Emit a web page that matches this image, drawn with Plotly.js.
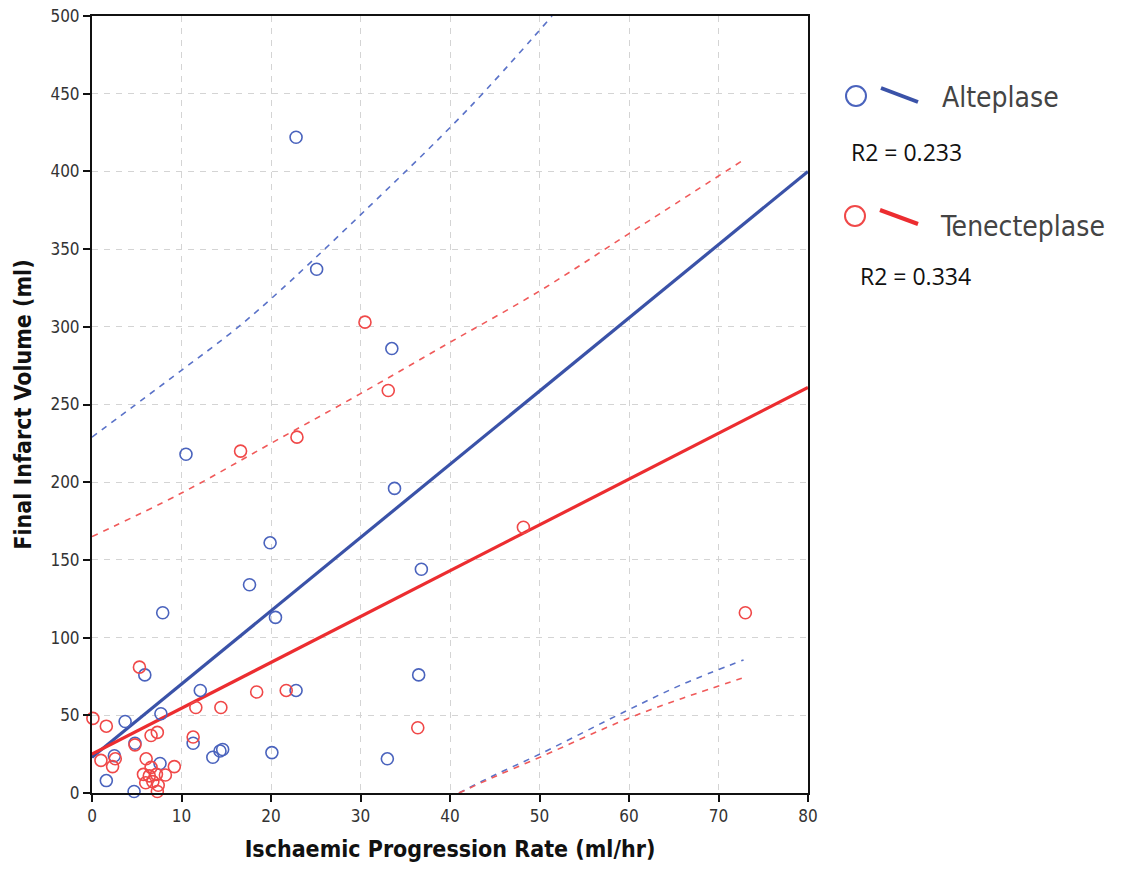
<!DOCTYPE html>
<html>
<head>
<meta charset="utf-8">
<script src="https://cdn.plot.ly/plotly-3.0.1.min.js"></script>
<style>html,body{margin:0;padding:0;background:#fff;}#chart{width:1122px;height:879px;}</style>
</head>
<body>
<div id="chart"></div>
<script>
// Alteplase observations
const alteX = [22.8,25.1,33.5,10.5,33.8,19.9,36.8,17.6,7.9,20.5,5.9,36.5,12.1,22.8,7.7,3.7,11.3,4.8,14.6,14.3,13.5,20.1,33.0,2.5,7.6,1.6,4.7];
const alteY = [422,337,286,218,196,161,144,134,116,113,76,76,66,66,51,46,32,32,28,27,23,26,22,24,19,8,1];
// Tenecteplase observations
const tenX = [30.5,33.1,22.9,16.6,48.2,73.0,36.4,5.3,18.4,21.7,11.6,14.4,11.3,1.6,0.1,6.6,7.3,4.8,1.0,2.6,2.3,6.05,6.6,5.75,6.4,7.2,8.2,9.2,6.0,6.8,7.4,7.3];
const tenY = [303,259,229,220,171,116,42,81,65,66,55,55,36,43,48,37,39,31,21,22,17,22,16.5,12,11,12,11.6,17,6.6,7.3,5,1];
// Fit lines
const alteFitX = [0, 80];
const alteFitY = [23, 400];
const tenFitX = [0, 80];
const tenFitY = [25, 261];
// Prediction interval curves
const alteUpX = [0, 10, 15.5, 20, 30, 42, 51.4];
const alteUpY = [229, 272, 296, 318, 372, 440, 500];
const alteLoX = [41, 44.6, 50.2, 59.9, 66, 72.8];
const alteLoY = [0, 10.5, 25.5, 53.4, 70, 85.6];
const tenUpX = [0, 10, 20, 30, 40, 50, 60, 72.7];
const tenUpY = [165, 193, 225, 257, 290, 323, 360, 407];
const tenLoX = [41, 44.6, 50.2, 59.9, 66, 72.6];
const tenLoY = [0, 9.5, 23.4, 48, 61, 73.8];
// Axis ticks
const xTicks = [0,10,20,30,40,50,60,70,80];
const yTicks = [0,50,100,150,200,250,300,350,400,450,500];
// Legend texts
const seriesNames = ["Alteplase", "Tenecteplase"];
const r2Texts = ["R2 = 0.233", "R2 = 0.334"];

const BLUE_M = "#4a63bd", BLUE_L = "#3a52a8";
const RED_M = "#f04848", RED_L = "#ec2d30";
const COND = "DejaVu Sans Condensed, Liberation Sans Narrow, Arial Narrow, sans-serif";

const traces = [
  {x: alteUpX, y: alteUpY, mode: "lines", line: {color: "#5a72c8", width: 1.6, dash: "6px,6px", shape: "spline"}, hoverinfo: "skip"},
  {x: alteLoX, y: alteLoY, mode: "lines", line: {color: "#5a72c8", width: 1.6, dash: "6px,6px", shape: "spline"}, hoverinfo: "skip"},
  {x: tenUpX, y: tenUpY, mode: "lines", line: {color: "#f05a5a", width: 1.6, dash: "6px,6px", shape: "spline"}, hoverinfo: "skip"},
  {x: tenLoX, y: tenLoY, mode: "lines", line: {color: "#f05a5a", width: 1.6, dash: "6px,6px", shape: "spline"}, hoverinfo: "skip"},
  {x: alteFitX, y: alteFitY, mode: "lines", line: {color: BLUE_L, width: 3.2}},
  {x: tenFitX, y: tenFitY, mode: "lines", line: {color: RED_L, width: 3.2}},
  {x: alteX, y: alteY, mode: "markers", name: seriesNames[0], cliponaxis: false,
   marker: {symbol: "circle-open", size: 12, color: BLUE_M, line: {width: 1.6, color: BLUE_M}}},
  {x: tenX, y: tenY, mode: "markers", name: seriesNames[1], cliponaxis: false,
   marker: {symbol: "circle-open", size: 12, color: RED_M, line: {width: 1.6, color: RED_M}}}
];

// paper coordinate helpers for the custom legend (plot area 92..808 x, 16..793 y)
const px = v => (v - 92) / 716;
const py = v => (793 - v) / 777;

const layout = {
  width: 1122, height: 879,
  margin: {l: 92, r: 314, t: 16, b: 86},
  paper_bgcolor: "#fff", plot_bgcolor: "#fff",
  showlegend: false,
  font: {family: "Liberation Sans, Arial, sans-serif", color: "#222"},
  xaxis: {
    range: [0, 80], tickvals: xTicks, ticktext: xTicks.map(String),
    showgrid: true, gridcolor: "#d4d4d4", griddash: "6px,6px", gridwidth: 1,
    zeroline: false, showline: true, linecolor: "#111", linewidth: 2, mirror: true,
    ticks: "outside", ticklen: 7, tickwidth: 2, tickcolor: "#111",
    tickfont: {size: 17, color: "#333", family: COND},
    title: {text: "<b>Ischaemic Progression Rate (ml/hr)</b>", standoff: 15,
            font: {size: 23, color: "#111", family: COND}}
  },
  yaxis: {
    range: [0, 500], tickvals: yTicks, ticktext: yTicks.map(String),
    showgrid: true, gridcolor: "#d4d4d4", griddash: "6px,6px", gridwidth: 1,
    zeroline: false, showline: true, linecolor: "#111", linewidth: 2, mirror: true,
    ticks: "outside", ticklen: 7, tickwidth: 2, tickcolor: "#111",
    tickfont: {size: 17, color: "#333", family: COND},
    title: {text: "<b>Final Infarct Volume (ml)</b>", standoff: 12,
            font: {size: 23, color: "#111", family: COND}}
  },
  shapes: [
    {type: "circle", xref: "paper", yref: "paper", x0: px(846), x1: px(866), y0: py(106), y1: py(86), line: {color: BLUE_M, width: 2}},
    {type: "line", xref: "paper", yref: "paper", x0: px(881), x1: px(918), y0: py(88), y1: py(102), line: {color: BLUE_L, width: 4}},
    {type: "circle", xref: "paper", yref: "paper", x0: px(845), x1: px(865), y0: py(226), y1: py(206), line: {color: RED_M, width: 2}},
    {type: "line", xref: "paper", yref: "paper", x0: px(880), x1: px(918), y0: py(210), y1: py(224), line: {color: RED_L, width: 4}}
  ],
  annotations: [
    {xref: "paper", yref: "paper", x: px(940), y: py(97), xanchor: "left", yanchor: "middle", showarrow: false,
     text: seriesNames[0], font: {size: 28, color: "#444", family: COND}},
    {xref: "paper", yref: "paper", x: px(849), y: py(152), xanchor: "left", yanchor: "middle", showarrow: false,
     text: r2Texts[0], font: {size: 23, color: "#111", family: "Open Sans, Liberation Sans, sans-serif"}},
    {xref: "paper", yref: "paper", x: px(938), y: py(226), xanchor: "left", yanchor: "middle", showarrow: false,
     text: seriesNames[1], font: {size: 28, color: "#444", family: COND}},
    {xref: "paper", yref: "paper", x: px(858), y: py(276), xanchor: "left", yanchor: "middle", showarrow: false,
     text: r2Texts[1], font: {size: 23, color: "#111", family: "Open Sans, Liberation Sans, sans-serif"}}
  ]
};

Plotly.newPlot("chart", traces, layout, {displayModeBar: false, staticPlot: true});
</script>
</body>
</html>
